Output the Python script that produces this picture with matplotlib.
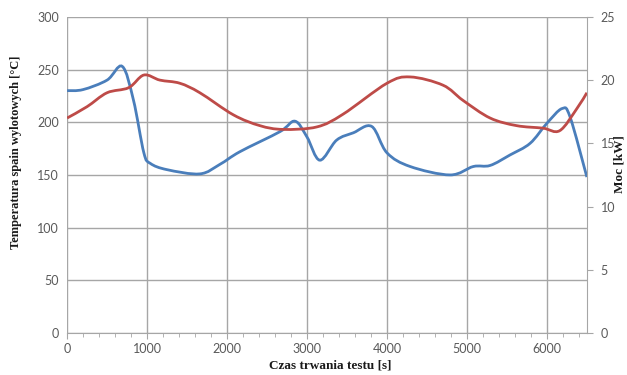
import numpy as np
import matplotlib.pyplot as plt
from matplotlib.path import Path
from matplotlib.patches import PathPatch

# blue: exhaust temperature [°C] (left axis)
t_temp = [0, 200, 500, 690, 830, 960, 1040, 1250, 1660, 1910, 2160, 2660, 2850, 3000,
          3160, 3370, 3580, 3810, 4000, 4290, 4790, 5080, 5290, 5540, 5790, 6000,
          6190, 6290, 6500]
temp = [230, 231, 240, 253, 221, 171, 161, 155, 151, 160, 172, 191, 201, 186,
        164, 183, 190, 196, 171, 158, 150, 158, 159, 169, 180, 199, 213, 205, 148]

# red: power [kW] (right axis)
t_power = [0, 250, 500, 770, 960, 1160, 1410, 1660, 2080, 2410, 2700, 3125, 3450,
           4000, 4290, 4700, 4950, 5290, 5620, 5950, 6160, 6370, 6500]
power = [17.0, 17.9, 19.0, 19.4, 20.4, 20.0, 19.75, 19.0, 17.25, 16.4, 16.1, 16.3,
         17.3, 19.75, 20.25, 19.6, 18.4, 17.0, 16.4, 16.2, 16.0, 17.7, 19.0]


def smooth_path(x, y, k=1 / 6):
    # Excel-style smoothed line: Catmull-Rom segments as cubic Beziers
    x = np.asarray(x, float)
    y = np.asarray(y, float)
    verts = [(x[0], y[0])]
    codes = [Path.MOVETO]
    n = len(x)
    for i in range(n - 1):
        p0 = (x[max(i - 1, 0)], y[max(i - 1, 0)])
        p1 = (x[i], y[i])
        p2 = (x[i + 1], y[i + 1])
        p3 = (x[min(i + 2, n - 1)], y[min(i + 2, n - 1)])
        c1 = (p1[0] + (p2[0] - p0[0]) * k, p1[1] + (p2[1] - p0[1]) * k)
        c2 = (p2[0] - (p3[0] - p1[0]) * k, p2[1] - (p3[1] - p1[1]) * k)
        verts += [c1, c2, p2]
        codes += [Path.CURVE4] * 3
    return Path(verts, codes)


grid_c = '#a6a6a6'
tick_c = '#595959'

fig = plt.figure(figsize=(6.27, 3.75), dpi=100)
ax = fig.add_axes([0.107, 0.112, 0.829, 0.843])
ax2 = ax.twinx()

ax.set_xlim(0, 6500)
ax.set_ylim(0, 300)
ax2.set_ylim(0, 25)

ax.set_xticks(range(0, 6001, 1000))
ax.set_xticks(range(0, 6501, 200), minor=True)
ax.set_yticks(range(0, 301, 50))
ax2.set_yticks(range(0, 26, 5))
ax.grid(True, color=grid_c, lw=1)
ax.set_axisbelow(True)

for s in ['top', 'left']:
    ax.spines[s].set_visible(False)
    ax2.spines[s].set_visible(False)
ax.spines['right'].set_visible(False)
ax.spines['bottom'].set_color(grid_c)
ax2.spines['bottom'].set_visible(False)
ax2.spines['right'].set_color(grid_c)

ax.tick_params(axis='x', which='both', colors=grid_c, labelcolor=tick_c, length=4, pad=3)
ax.tick_params(axis='x', which='minor', length=3)
ax.tick_params(axis='y', length=0, labelcolor=tick_c, pad=6)
ax2.tick_params(axis='y', colors=grid_c, labelcolor=tick_c, length=4, pad=6)
for lab in ax.get_xticklabels() + ax.get_yticklabels() + ax2.get_yticklabels():
    lab.set_fontfamily('Lato')
    lab.set_fontsize(9)

ax.add_patch(PathPatch(smooth_path(t_temp, temp), fill=False, ec='#4a7ebb', lw=2, zorder=3))
ax2.add_patch(PathPatch(smooth_path(t_power, power), fill=False, ec='#be4b48', lw=2, zorder=3))

lab_font = dict(family='Liberation Serif', weight='bold', color='#1a1a1a',
                ha='center', va='center')
fig.text(330 / 627, 1 - 365 / 375, 'Czas trwania testu [s]', size=9.5, **lab_font)
fig.text(16 / 627, 1 - 152 / 375, 'Temperatura spain wylotowych [°C]', size=9,
         rotation=90, **lab_font)
fig.text(620 / 627, 1 - 164 / 375, 'Moc [kW]', size=9.5, rotation=90, **lab_font)

fig.savefig('out.png', dpi=100)
